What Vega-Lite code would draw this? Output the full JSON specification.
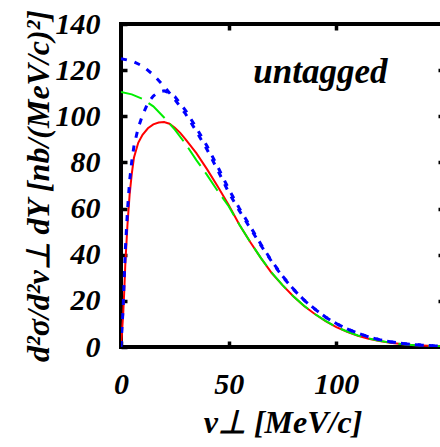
{
  "$schema": "https://vega.github.io/schema/vega-lite/v6.json",
  "autosize": {"type": "none"},
  "padding": {"left": 121, "top": 24, "right": 0, "bottom": 100},
  "width": 323,
  "height": 323,
  "background": "white",
  "config": {
    "view": {"stroke": "black", "strokeWidth": 4},
    "axis": {
      "grid": false,
      "domain": false,
      "tickColor": "black",
      "tickWidth": 3.5,
      "tickSize": -6,
      "labelFont": "Liberation Serif",
      "labelFontWeight": "bold",
      "labelFontStyle": "italic",
      "labelFontSize": 30,
      "labelColor": "black",
      "labelFlush": false,
      "titleFont": "Liberation Serif",
      "titleFontWeight": "bold",
      "titleFontStyle": "italic",
      "titleFontSize": 32,
      "titleColor": "black"
    }
  },
  "datasets": {
    "curves": [
      {"s": "red", "v": 0, "y": 0}, {"s": "red", "v": 0.5, "y": 7}, {"s": "red", "v": 1, "y": 14}, {"s": "red", "v": 1.5, "y": 24}, {"s": "red", "v": 2, "y": 36}, {"s": "red", "v": 3, "y": 53}, {"s": "red", "v": 4, "y": 66}, {"s": "red", "v": 5, "y": 75}, {"s": "red", "v": 6, "y": 82}, {"s": "red", "v": 8, "y": 88.5}, {"s": "red", "v": 10, "y": 92}, {"s": "red", "v": 12.5, "y": 94.8}, {"s": "red", "v": 15, "y": 96.5}, {"s": "red", "v": 17.5, "y": 97.3}, {"s": "red", "v": 20, "y": 97.5}, {"s": "red", "v": 22.5, "y": 96.8}, {"s": "red", "v": 25, "y": 95}, {"s": "red", "v": 27.5, "y": 92.8}, {"s": "red", "v": 30, "y": 90}, {"s": "red", "v": 35, "y": 84}, {"s": "red", "v": 40, "y": 77}, {"s": "red", "v": 45, "y": 69.5}, {"s": "red", "v": 50, "y": 61.5}, {"s": "red", "v": 55, "y": 53}, {"s": "red", "v": 60, "y": 45.5}, {"s": "red", "v": 65, "y": 38.5}, {"s": "red", "v": 70, "y": 32}, {"s": "red", "v": 75, "y": 26.8}, {"s": "red", "v": 80, "y": 22}, {"s": "red", "v": 85, "y": 17.8}, {"s": "red", "v": 90, "y": 14.3}, {"s": "red", "v": 95, "y": 11.2}, {"s": "red", "v": 100, "y": 8.6}, {"s": "red", "v": 105, "y": 6.6}, {"s": "red", "v": 110, "y": 4.9}, {"s": "red", "v": 115, "y": 3.6}, {"s": "red", "v": 120, "y": 2.6}, {"s": "red", "v": 125, "y": 1.8}, {"s": "red", "v": 130, "y": 1.3}, {"s": "red", "v": 135, "y": 0.9}, {"s": "red", "v": 140, "y": 0.6}, {"s": "red", "v": 145, "y": 0.4}, {"s": "red", "v": 150, "y": 0.25},
      {"s": "green", "v": 0, "y": 110.5}, {"s": "green", "v": 5, "y": 109.5}, {"s": "green", "v": 10, "y": 107.5}, {"s": "green", "v": 15, "y": 104.3}, {"s": "green", "v": 20, "y": 99.5}, {"s": "green", "v": 25, "y": 94.2}, {"s": "green", "v": 30, "y": 88}, {"s": "green", "v": 35, "y": 81}, {"s": "green", "v": 40, "y": 74.5}, {"s": "green", "v": 45, "y": 67.5}, {"s": "green", "v": 50, "y": 61}, {"s": "green", "v": 55, "y": 53}, {"s": "green", "v": 60, "y": 45.5}, {"s": "green", "v": 65, "y": 38.5}, {"s": "green", "v": 70, "y": 32.2}, {"s": "green", "v": 75, "y": 26.8}, {"s": "green", "v": 80, "y": 22}, {"s": "green", "v": 85, "y": 17.9}, {"s": "green", "v": 90, "y": 14.3}, {"s": "green", "v": 95, "y": 11.3}, {"s": "green", "v": 100, "y": 8.7}, {"s": "green", "v": 105, "y": 6.7}, {"s": "green", "v": 110, "y": 5}, {"s": "green", "v": 115, "y": 3.7}, {"s": "green", "v": 120, "y": 2.7}, {"s": "green", "v": 125, "y": 1.9}, {"s": "green", "v": 130, "y": 1.3}, {"s": "green", "v": 135, "y": 0.9}, {"s": "green", "v": 140, "y": 0.6}, {"s": "green", "v": 145, "y": 0.4}, {"s": "green", "v": 150, "y": 0.25},
      {"s": "blue1", "v": 0, "y": 125}, {"s": "blue1", "v": 5, "y": 124}, {"s": "blue1", "v": 10, "y": 121.8}, {"s": "blue1", "v": 15, "y": 118}, {"s": "blue1", "v": 20, "y": 113}, {"s": "blue1", "v": 25, "y": 107.3}, {"s": "blue1", "v": 30, "y": 101}, {"s": "blue1", "v": 35, "y": 93.5}, {"s": "blue1", "v": 40, "y": 85.5}, {"s": "blue1", "v": 45, "y": 76.5}, {"s": "blue1", "v": 50, "y": 67}, {"s": "blue1", "v": 55, "y": 59}, {"s": "blue1", "v": 60, "y": 51.5}, {"s": "blue1", "v": 65, "y": 44}, {"s": "blue1", "v": 70, "y": 37}, {"s": "blue1", "v": 75, "y": 30.5}, {"s": "blue1", "v": 80, "y": 25}, {"s": "blue1", "v": 85, "y": 20.3}, {"s": "blue1", "v": 90, "y": 16.4}, {"s": "blue1", "v": 95, "y": 12.9}, {"s": "blue1", "v": 100, "y": 10.1}, {"s": "blue1", "v": 105, "y": 7.8}, {"s": "blue1", "v": 110, "y": 6}, {"s": "blue1", "v": 115, "y": 4.4}, {"s": "blue1", "v": 120, "y": 3.2}, {"s": "blue1", "v": 125, "y": 2.3}, {"s": "blue1", "v": 130, "y": 1.6}, {"s": "blue1", "v": 135, "y": 1.1}, {"s": "blue1", "v": 140, "y": 0.8}, {"s": "blue1", "v": 145, "y": 0.5}, {"s": "blue1", "v": 150, "y": 0.35},
      {"s": "blue2", "v": 0, "y": 0}, {"s": "blue2", "v": 0.5, "y": 9}, {"s": "blue2", "v": 1, "y": 17}, {"s": "blue2", "v": 1.5, "y": 30}, {"s": "blue2", "v": 2, "y": 42}, {"s": "blue2", "v": 3, "y": 59}, {"s": "blue2", "v": 4, "y": 72}, {"s": "blue2", "v": 5, "y": 80.5}, {"s": "blue2", "v": 6, "y": 87}, {"s": "blue2", "v": 8, "y": 95}, {"s": "blue2", "v": 10, "y": 100.5}, {"s": "blue2", "v": 12.5, "y": 105.8}, {"s": "blue2", "v": 15, "y": 108.8}, {"s": "blue2", "v": 17.5, "y": 110.5}, {"s": "blue2", "v": 20, "y": 111}, {"s": "blue2", "v": 22.5, "y": 110.2}, {"s": "blue2", "v": 25, "y": 108.5}, {"s": "blue2", "v": 30, "y": 102.5}, {"s": "blue2", "v": 35, "y": 95}, {"s": "blue2", "v": 40, "y": 87}, {"s": "blue2", "v": 45, "y": 78}, {"s": "blue2", "v": 50, "y": 68.5}, {"s": "blue2", "v": 55, "y": 60}, {"s": "blue2", "v": 60, "y": 52.3}, {"s": "blue2", "v": 65, "y": 44.5}, {"s": "blue2", "v": 70, "y": 37.3}, {"s": "blue2", "v": 75, "y": 30.8}, {"s": "blue2", "v": 80, "y": 25.2}, {"s": "blue2", "v": 85, "y": 20.4}, {"s": "blue2", "v": 90, "y": 16.5}, {"s": "blue2", "v": 95, "y": 13}, {"s": "blue2", "v": 100, "y": 10.2}, {"s": "blue2", "v": 105, "y": 7.8}, {"s": "blue2", "v": 110, "y": 6}, {"s": "blue2", "v": 115, "y": 4.4}, {"s": "blue2", "v": 120, "y": 3.2}, {"s": "blue2", "v": 125, "y": 2.3}, {"s": "blue2", "v": 130, "y": 1.6}, {"s": "blue2", "v": 135, "y": 1.1}, {"s": "blue2", "v": 140, "y": 0.8}, {"s": "blue2", "v": 145, "y": 0.5}, {"s": "blue2", "v": 150, "y": 0.35}
    ],
    "label": [{"v": 92.6, "y": 114.3, "t": "untagged"}]
  },
  "resolve": {"axis": {"x": "independent", "y": "independent"}},
  "layer": [
    {
      "data": {"name": "curves"},
      "transform": [{"filter": "datum.s === 'red'"}],
      "mark": {"type": "line", "color": "#ff0000", "strokeWidth": 2, "clip": true},
      "encoding": {
        "x": {"field": "v", "type": "quantitative", "scale": {"domain": [0, 150], "nice": false},
          "axis": {"orient": "bottom", "values": [0, 50, 100], "labelPadding": 28, "title": "v⊥ [MeV/c]", "titleX": 161.5, "titleY": 85, "titleBaseline": "alphabetic", "titleAnchor": "middle"}},
        "y": {"field": "y", "type": "quantitative", "scale": {"domain": [0, 140], "nice": false},
          "axis": {"orient": "left", "values": [0, 20, 40, 60, 80, 100, 120, 140], "labelPadding": 27, "title": "d²σ/d²v⊥ dY [nb/(MeV/c)²]", "titleX": -73, "titleY": 161.5, "titleAngle": -90, "titleBaseline": "alphabetic", "titleAlign": "center"}}
      }
    },
    {
      "data": {"name": "curves"},
      "transform": [{"filter": "datum.s === 'green'"}],
      "mark": {"type": "line", "color": "#00ee00", "strokeWidth": 2, "strokeDash": [22, 8], "clip": true},
      "encoding": {
        "x": {"field": "v", "type": "quantitative", "axis": {"orient": "top", "values": [50, 100], "labels": false, "title": null}},
        "y": {"field": "y", "type": "quantitative", "axis": {"orient": "right", "values": [20, 40, 60, 80, 100, 120], "labels": false, "title": null}}
      }
    },
    {
      "data": {"name": "curves"},
      "transform": [{"filter": "datum.s === 'blue1' || datum.s === 'blue2'"}],
      "mark": {"type": "line", "color": "#0000ff", "strokeWidth": 3, "strokeDash": [6, 8], "clip": true},
      "encoding": {
        "detail": {"field": "s"},
        "x": {"field": "v", "type": "quantitative", "axis": null},
        "y": {"field": "y", "type": "quantitative", "axis": null}
      }
    },
    {
      "data": {"name": "label"},
      "mark": {"type": "text", "font": "Liberation Serif", "fontWeight": "bold", "fontStyle": "italic", "fontSize": 35, "color": "black", "align": "center", "baseline": "alphabetic"},
      "encoding": {
        "x": {"field": "v", "type": "quantitative", "axis": null},
        "y": {"field": "y", "type": "quantitative", "axis": null},
        "text": {"field": "t"}
      }
    }
  ]
}
